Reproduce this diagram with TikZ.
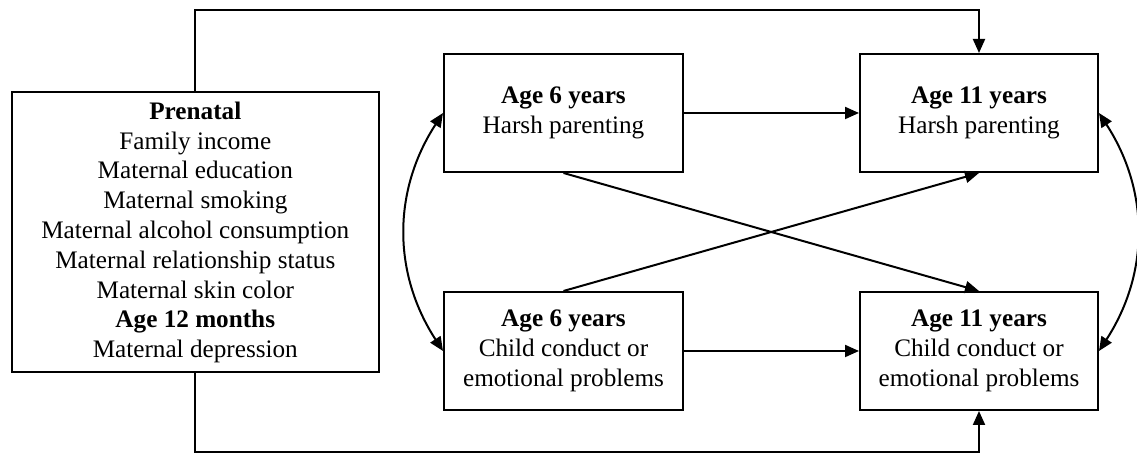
\documentclass[tikz,border=0pt]{standalone}
\usepackage{fontspec}
\setmainfont{Liberation Serif}
\usepackage{tikz}
\usetikzlibrary{arrows.meta}

\begin{document}
\begin{tikzpicture}[x=0.5pt, y=0.5pt,
        box/.style={draw, line width=1pt, align=center, inner sep=0pt,
            font=\fontsize{12.6pt}{14.9pt}\selectfont},
        path/.style={line width=1pt, -{Triangle[length=7pt,width=6pt]}},
        twoway/.style={line width=1pt, {Triangle[length=7pt,width=6pt]}-{Triangle[length=7pt,width=6pt]}}]
        \useasboundingbox (0,0) rectangle (1137,454);
        \node[box, minimum width=183.5pt, minimum height=140pt] (prenatal) at (195.3,221.6)
            {\textbf{Prenatal}\\Family income\\Maternal education\\Maternal smoking\\Maternal alcohol consumption\\Maternal relationship status\\Maternal skin color\\\textbf{Age 12 months}\\Maternal depression};
        \node[box, minimum width=119.5pt, minimum height=59pt] (harsh6) at (563.5,341) {\textbf{Age 6 years}\\Harsh parenting};
        \node[box, minimum width=119pt, minimum height=59pt] (harsh11) at (979,341) {\textbf{Age 11 years}\\Harsh parenting};
        \node[box, minimum width=119.5pt, minimum height=59pt] (child6) at (563.5,103) {\textbf{Age 6 years}\\Child conduct or\\emotional problems};
        \node[box, minimum width=119pt, minimum height=59pt] (child11) at (979,103) {\textbf{Age 11 years}\\Child conduct or\\emotional problems};
        \coordinate (topline) at (0,444);
        \coordinate (bottomline) at (0,1.6);
        \draw [path] (prenatal.north) -- (prenatal.north |- topline) -| (harsh11.north);
        \draw [path] (prenatal.south) -- (prenatal.south |- bottomline) -| (child11.south);
        \draw [path] (harsh6) -- (harsh11);
        \draw [path] (child6) -- (child11);
        \draw [path] (harsh6.south) -- (child11.north);
        \draw [path] (child6.north) -- (harsh11.south);
        \draw [twoway] (harsh6.west) to[bend right=33] (child6.west);
        \draw [twoway] (harsh11.east) to[bend left=33] (child11.east);
    \end{tikzpicture}
\end{document}
